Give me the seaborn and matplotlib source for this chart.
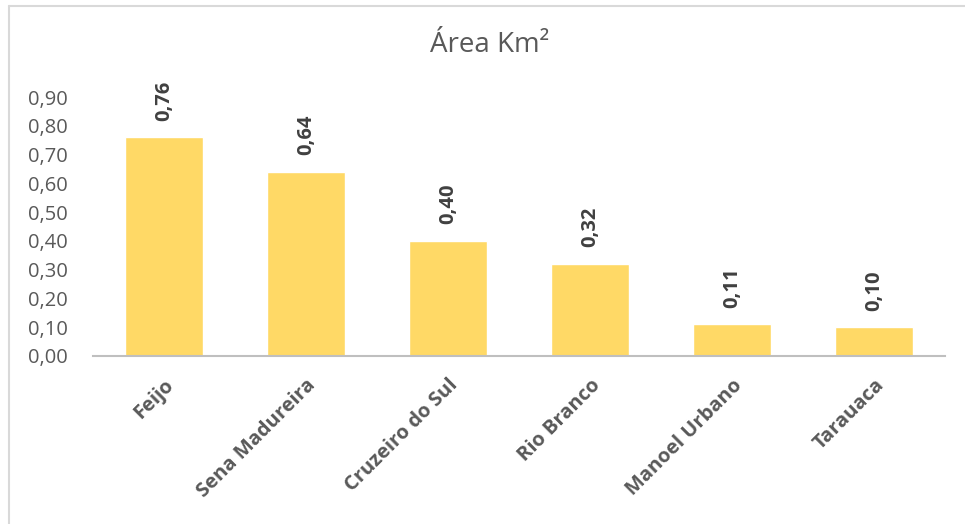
import matplotlib
matplotlib.use("Agg")
import matplotlib.pyplot as plt
import seaborn as sns
import pandas as pd
from matplotlib.lines import Line2D

categories = ["Feijo", "Sena Madureira", "Cruzeiro do Sul", "Rio Branco", "Manoel Urbano", "Tarauaca"]
values = [0.76, 0.64, 0.40, 0.32, 0.11, 0.10]
yticks = [0.0, 0.1, 0.2, 0.3, 0.4, 0.5, 0.6, 0.7, 0.8, 0.9]
title = "Área Km²"

sns.set_theme(style="white")
plt.rcParams["font.family"] = ["Open Sans", "DejaVu Sans"]

df = pd.DataFrame({"cat": categories, "val": values})

fig = plt.figure(figsize=(9.65, 5.24), dpi=100)
ax = fig.add_axes([93/965, 1-356/524, (945-93)/965, (356-97)/524])
sns.barplot(data=df, x="cat", y="val", color="#FFD966", saturation=1, width=0.556, ax=ax)

ax.set_ylim(0, 0.9)
ax.set_xlim(-0.5, len(categories)-0.5)
ax.set_yticks(yticks)
ax.set_yticklabels([f"{t:.2f}".replace(".", ",") for t in yticks], fontsize=14.5, color="#595959")
ax.tick_params(axis="y", length=0, pad=18)
ax.tick_params(axis="x", length=0, pad=14)
ax.set_xticks(range(len(categories)))
ax.set_xticklabels(categories, rotation=45, ha="right", rotation_mode="anchor",
                   fontsize=14.5, fontweight="bold", color="#595959")
ax.set_xlabel("")
ax.set_ylabel("")
for s in ["left", "right", "top"]:
    ax.spines[s].set_visible(False)
ax.spines["bottom"].set_color("#BFBFBF")
ax.spines["bottom"].set_linewidth(1.5)

for i, v in enumerate(values):
    ax.annotate(f"{v:.2f}".replace(".", ","), xy=(i, v), xytext=(0, 12), textcoords="offset points",
                rotation=90, ha="center", va="bottom", fontsize=14.5, fontweight="bold", color="#404040")

fig.text(490/965, 1-45/524, title, ha="center", va="center", fontsize=20, color="#595959")

fig.add_artist(Line2D([8.5/965, 1], [1-5.5/524, 1-5.5/524], color="#D9D9D9", lw=1.5, transform=fig.transFigure))
fig.add_artist(Line2D([8.5/965, 8.5/965], [0, 1-5.5/524], color="#D9D9D9", lw=1.5, transform=fig.transFigure))

fig.savefig("out.png", dpi=100, facecolor="white")
